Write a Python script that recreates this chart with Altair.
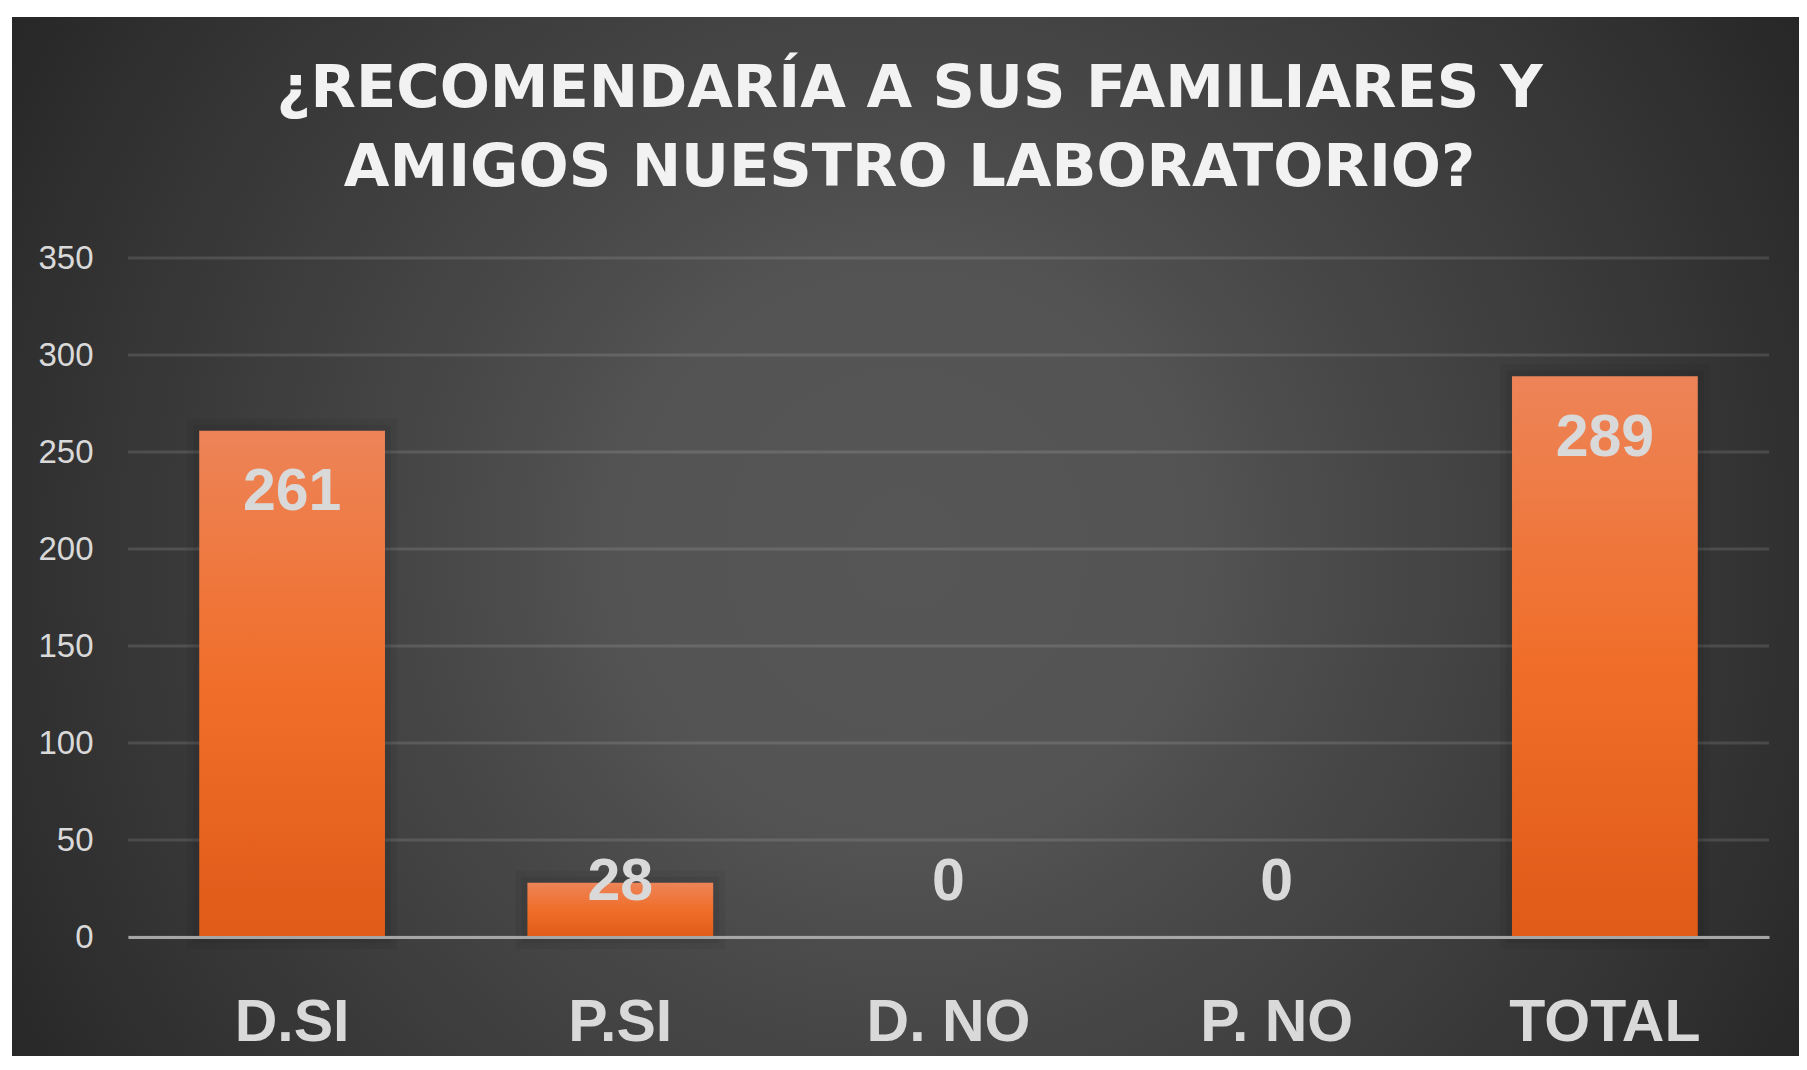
import altair as alt
import pandas as pd

# ---- data ----
categories = ["D.SI", "P.SI", "D. NO", "P. NO", "TOTAL"]
values = [261, 28, 0, 0, 289]
y_ticks = [0, 50, 100, 150, 200, 250, 300, 350]
title_lines = ["¿RECOMENDARÍA A SUS FAMILIARES Y", "AMIGOS NUESTRO LABORATORIO?"]

df = pd.DataFrame({"cat": categories, "value": values})
grid_df = pd.DataFrame({"t": y_ticks})

W, H = 1641, 679
PAD = {"left": 120, "top": 250, "right": 30, "bottom": 119}

bg_fill = {
    "gradient": "radial",
    "x1": 0.5, "y1": 0.5075, "r1": 0,
    "x2": 0.5, "y2": 0.5075, "r2": 0.6,
    "stops": [
        {"offset": 0.0, "color": "#565656"},
        {"offset": 0.26, "color": "#545454"},
        {"offset": 0.40, "color": "#4a4a4a"},
        {"offset": 0.60, "color": "#3e3e3e"},
        {"offset": 0.80, "color": "#323232"},
        {"offset": 1.0, "color": "#252525"},
    ],
}

bar_fill = {
    "gradient": "linear",
    "x1": 0, "y1": 0, "x2": 0, "y2": 1,
    "stops": [
        {"offset": 0.0, "color": "#ED8458"},
        {"offset": 0.5, "color": "#F06E2A"},
        {"offset": 1.0, "color": "#E05A18"},
    ],
}

x_enc = alt.X(
    "cat:N",
    sort=categories,
    scale=alt.Scale(paddingInner=0.434, paddingOuter=0.217),
    axis=alt.Axis(
        title=None,
        labelAngle=0,
        labelFont="Liberation Sans",
        labelFontWeight="bold",
        labelFontSize=59,
        labelColor="#d9d9d9",
        labelPadding=56,
        labelLimit=0,
        ticks=False,
        domain=True,
        domainColor="#a6a6a6",
        domainWidth=3,
        grid=False,
        zindex=1,
    ),
)

y_scale = alt.Scale(domain=[0, 350], nice=False)
y_axis = alt.Axis(
    title=None,
    values=y_ticks,
    labelFont="Liberation Sans",
    labelFontSize=33,
    labelColor="#d9d9d9",
    labelPadding=35,
    ticks=False,
    domain=False,
    grid=False,
    zindex=1,
)

y_enc = alt.Y("value:Q", scale=y_scale, axis=y_axis)

bg = alt.Chart(pd.DataFrame({"k": [0]})).mark_rect(fill=bg_fill).encode(
    x=alt.value(-116), x2=alt.value(W + PAD["right"]),
    y=alt.value(-241), y2=alt.value(H + PAD["bottom"]),
)

grid = alt.Chart(grid_df).mark_rule(color="white", opacity=0.12, strokeWidth=3).encode(
    y=alt.Y("t:Q", scale=y_scale, axis=y_axis)
)

base = alt.Chart(df)

shadow1 = base.transform_filter("datum.value > 0").mark_bar(
    fill="black", fillOpacity=0.0, stroke="black", strokeOpacity=0.05, strokeWidth=24
).encode(x=x_enc, y=y_enc)

shadow2 = base.transform_filter("datum.value > 0").mark_bar(
    fill="black", fillOpacity=0.0, stroke="black", strokeOpacity=0.06, strokeWidth=12
).encode(x=x_enc, y=y_enc)

bars = base.mark_bar(fill=bar_fill).encode(x=x_enc, y=y_enc)

labels = base.transform_calculate(
    label_y="max(datum.value - 30, 30)"
).mark_text(
    font="Liberation Sans", fontWeight="bold", fontSize=59,
    color="#d9d9d9", baseline="middle", dy=3.5,
).encode(
    x=x_enc,
    y=alt.Y("label_y:Q", scale=y_scale, axis=y_axis),
    text=alt.Text("value:Q"),
)

chart = alt.layer(bg, grid, shadow1, shadow2, bars, labels).properties(
    width=W,
    height=H,
    padding=PAD,
    autosize=alt.AutoSizeParams(type="none"),
    background="white",
    title=alt.TitleParams(
        text=title_lines,
        font="DejaVu Sans",
        fontSize=59,
        fontWeight="bold",
        color="#f2f2f2",
        lineHeight=79,
        anchor="middle",
        frame="group",
        dx=-39,
        dy=185,
    ),
).configure_view(strokeWidth=0)

chart.save("out.html", embed_options={"renderer": "svg", "actions": False})
